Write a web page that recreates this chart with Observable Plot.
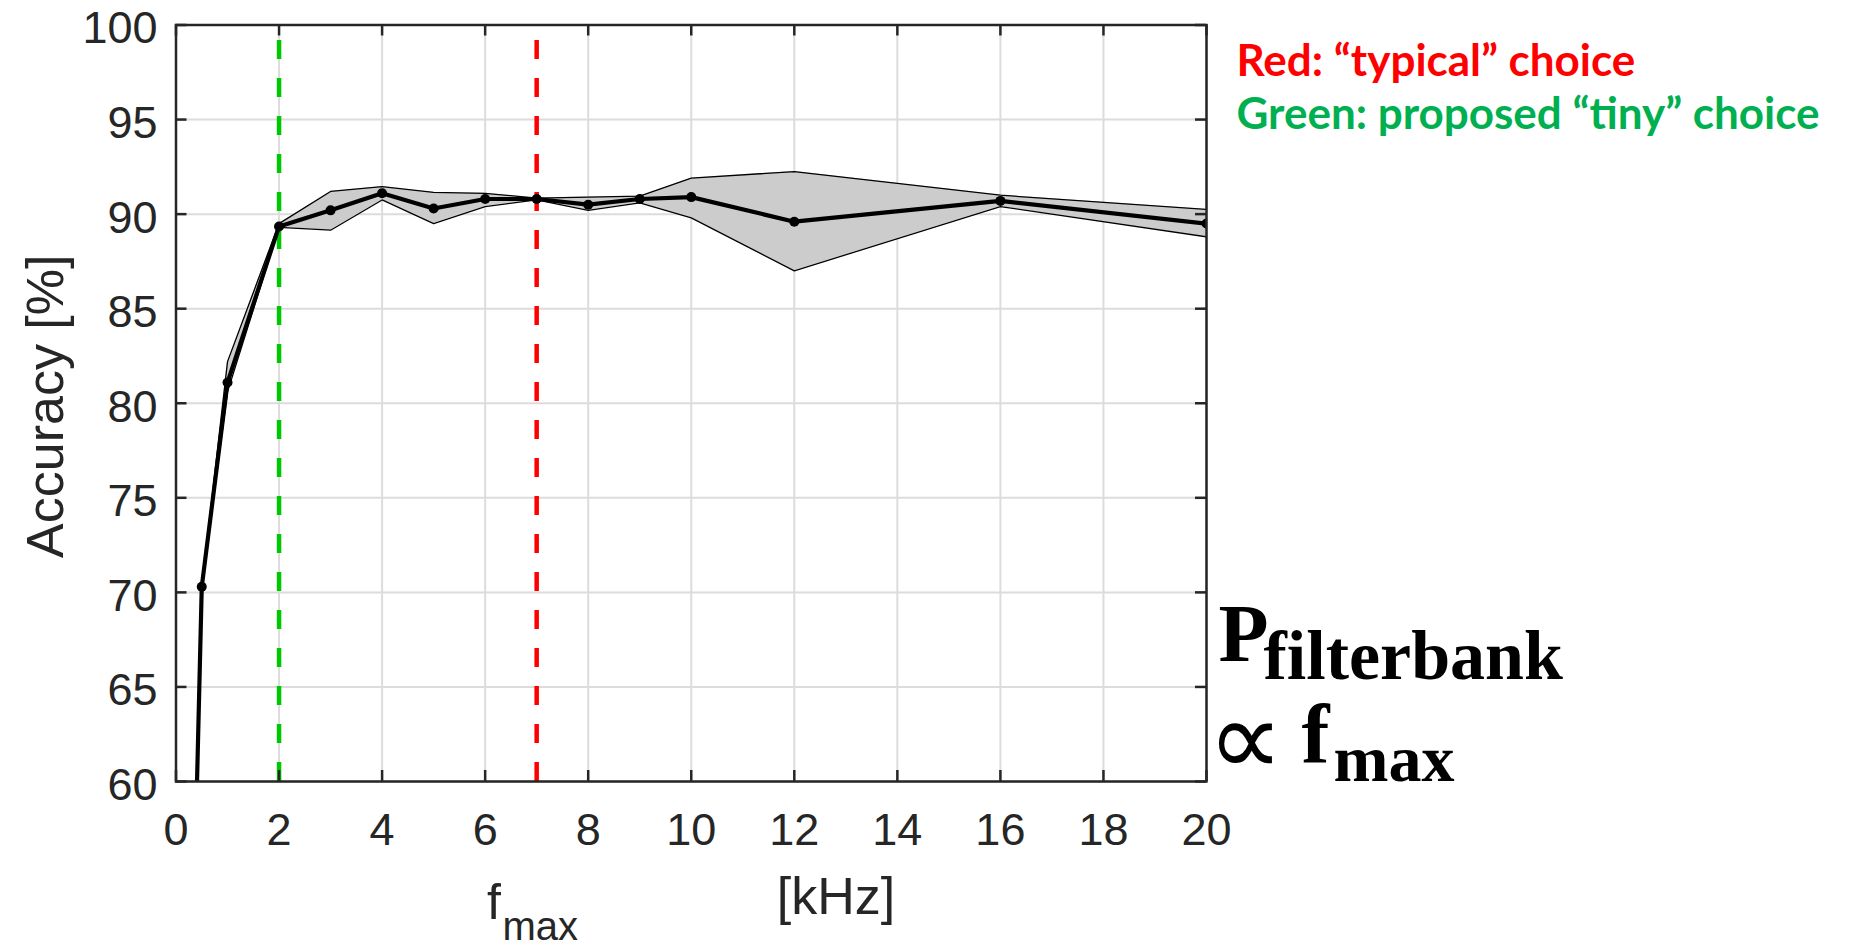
<!DOCTYPE html>
<html>
<head>
<meta charset="utf-8">
<script src="https://cdn.jsdelivr.net/npm/d3@7"></script>
<script src="https://cdn.jsdelivr.net/npm/@observablehq/plot@0.6"></script>
<style>
  html, body { margin: 0; padding: 0; background: #ffffff; }
  #chart svg { display: block; background: #ffffff; }
</style>
</head>
<body>
<div id="chart"></div>
<script>
// ---- data ----
const fmax     = [0.25, 0.5, 1, 2, 3, 4, 5, 6, 7, 8, 9, 10, 12, 16, 20];
const accMean  = [42.3, 70.3, 81.1, 89.35, 90.2, 91.1, 90.3, 90.8, 90.8, 90.5, 90.8, 90.9, 89.6, 90.7, 89.5];
const accUpper = [42.3, 70.3, 82.2, 89.5, 91.2, 91.45, 91.15, 91.1, 90.85, 90.9, 90.95, 91.9, 92.25, 91.0, 90.25];
const accLower = [42.3, 70.3, 80.6, 89.3, 89.15, 90.75, 89.5, 90.4, 90.75, 90.2, 90.6, 89.8, 87.0, 90.4, 88.8];

const xTicks = [0, 2, 4, 6, 8, 10, 12, 14, 16, 18, 20];
const yTicks = [60, 65, 70, 75, 80, 85, 90, 95, 100];

const choiceF      = [2, 7];
const choiceColors = ["#00c800", "#ff0000"];
const choiceTop    = 99.2;

const yLabel   = "Accuracy [%]";
const xLabelF  = "f";
const xLabelSub = "max";
const xUnit    = "[kHz]";
const noteRed   = "Red: \u201ctypical\u201d choice";
const noteGreen = "Green: proposed \u201ctiny\u201d choice";
const formulaP = "P";
const formulaPSub = "filterbank";
const formulaProp = "\u221d";
const formulaF = "f";
const formulaFSub = "max";

// ---- table built from the arrays ----
const rows = fmax.map((f, i) => ({ f, mean: accMean[i], hi: accUpper[i], lo: accLower[i] }));
const choices = choiceF.map((f, i) => ({ f, color: choiceColors[i] }));

const W = 1860, H = 946;
const mL = 175.5, mR = 654, mT = 24.5, mB = 165;
const fh = H - mT - mB, fw = W - mL - mR;
const tick = 11;
const ink = "#262626";
const sans = "'Liberation Sans', Arial, Helvetica, sans-serif";
const note = "Lato, 'Open Sans', sans-serif";
const serif = "'Liberation Serif', 'Times New Roman', serif";

const chart = Plot.plot({
  width: W, height: H,
  marginLeft: mL, marginRight: mR, marginTop: mT, marginBottom: mB,
  style: { fontFamily: sans, color: ink, background: "#ffffff", overflow: "visible" },
  x: { domain: [0, 20] },
  y: { domain: [60, 100] },
  marks: [
    Plot.gridX(xTicks, { stroke: "#dcdcdc", strokeOpacity: 1, strokeWidth: 2 }),
    Plot.gridY(yTicks, { stroke: "#dcdcdc", strokeOpacity: 1, strokeWidth: 2 }),
    Plot.ruleX(choices, { x: "f", y1: 60, y2: choiceTop, stroke: "color", strokeWidth: 4.5, strokeDasharray: "19,19" }),
    Plot.areaY(rows, { x: "f", y1: "lo", y2: "hi", fill: "#cccccc", clip: true }),
    Plot.line(rows, { x: "f", y: "hi", stroke: "#000", strokeWidth: 1.3, clip: true }),
    Plot.line(rows, { x: "f", y: "lo", stroke: "#000", strokeWidth: 1.3, clip: true }),
    Plot.line(rows, { x: "f", y: "mean", stroke: "#000", strokeWidth: 4.2, clip: true }),
    Plot.dot(rows, { x: "f", y: "mean", r: 5, fill: "#000", clip: true }),
    Plot.frame({ stroke: ink, strokeWidth: 2.5 }),
    // inward tick marks on all four sides
    Plot.ruleX(xTicks, { x: d => d, insetTop: fh - tick, stroke: ink, strokeWidth: 2.5 }),
    Plot.ruleX(xTicks, { x: d => d, insetBottom: fh - tick, stroke: ink, strokeWidth: 2.5 }),
    Plot.ruleY(yTicks, { y: d => d, insetRight: fw - tick, stroke: ink, strokeWidth: 2.5 }),
    Plot.ruleY(yTicks, { y: d => d, insetLeft: fw - tick, stroke: ink, strokeWidth: 2.5 }),
    Plot.axisX(xTicks, { anchor: "bottom", tickSize: 0, tickPadding: 32, fontSize: 45, label: null }),
    Plot.axisY(yTicks, { anchor: "left", tickSize: 0, tickPadding: 18.5, fontSize: 45, dy: 4, label: null }),
    // axis labels
    Plot.text([yLabel], { text: d => d, frameAnchor: "left", textAnchor: "middle", rotate: -90, dx: -129.5, dy: 3, fontSize: 52, fill: ink }),
    Plot.text([xLabelF], { text: d => d, frameAnchor: "bottom-left", textAnchor: "start", lineAnchor: "bottom", dx: 311, dy: 137, fontSize: 50, fill: ink }),
    Plot.text([xLabelSub], { text: d => d, frameAnchor: "bottom-left", textAnchor: "start", lineAnchor: "bottom", dx: 326.5, dy: 158, fontSize: 40, fill: ink }),
    Plot.text([xUnit], { text: d => d, frameAnchor: "bottom", textAnchor: "middle", lineAnchor: "bottom", dx: 144.75, dy: 132, fontSize: 52, fill: ink }),
    // notes
    Plot.text([noteRed], { text: d => d, frameAnchor: "top-right", textAnchor: "start", lineAnchor: "bottom", dx: 30, dy: 51, fontSize: 44, letterSpacing: "0.7px", fontWeight: "bold", fontFamily: note, fill: "#ff0000" }),
    Plot.text([noteGreen], { text: d => d, frameAnchor: "top-right", textAnchor: "start", lineAnchor: "bottom", dx: 30, dy: 104, fontSize: 44, letterSpacing: "0.7px", fontWeight: "bold", fontFamily: note, fill: "#00b050" }),
    // formula
    Plot.text([formulaP], { text: d => d, frameAnchor: "bottom-right", textAnchor: "start", lineAnchor: "bottom", dx: 12, dy: -121, fontSize: 82, fontWeight: "bold", fontFamily: serif, fill: "#000" }),
    Plot.text([formulaPSub], { text: d => d, frameAnchor: "bottom-right", textAnchor: "start", lineAnchor: "bottom", dx: 57, dy: -103, fontSize: 70, fontWeight: "bold", fontFamily: serif, fill: "#000" }),
    Plot.text([formulaProp], { text: d => d, frameAnchor: "bottom-right", textAnchor: "start", lineAnchor: "bottom", dx: 1, dy: -7, fontSize: 106, fontFamily: "'DejaVu Sans', sans-serif", fill: "#000" }),
    Plot.text([formulaF], { text: d => d, frameAnchor: "bottom-right", textAnchor: "start", lineAnchor: "bottom", dx: 95, dy: -19, fontSize: 84, fontWeight: "bold", fontFamily: serif, fill: "#000" }),
    Plot.text([formulaFSub], { text: d => d, frameAnchor: "bottom-right", textAnchor: "start", lineAnchor: "bottom", dx: 127, dy: -1, fontSize: 66, fontWeight: "bold", fontFamily: serif, fill: "#000" })
  ]
});
document.getElementById("chart").appendChild(chart);
</script>
</body>
</html>
